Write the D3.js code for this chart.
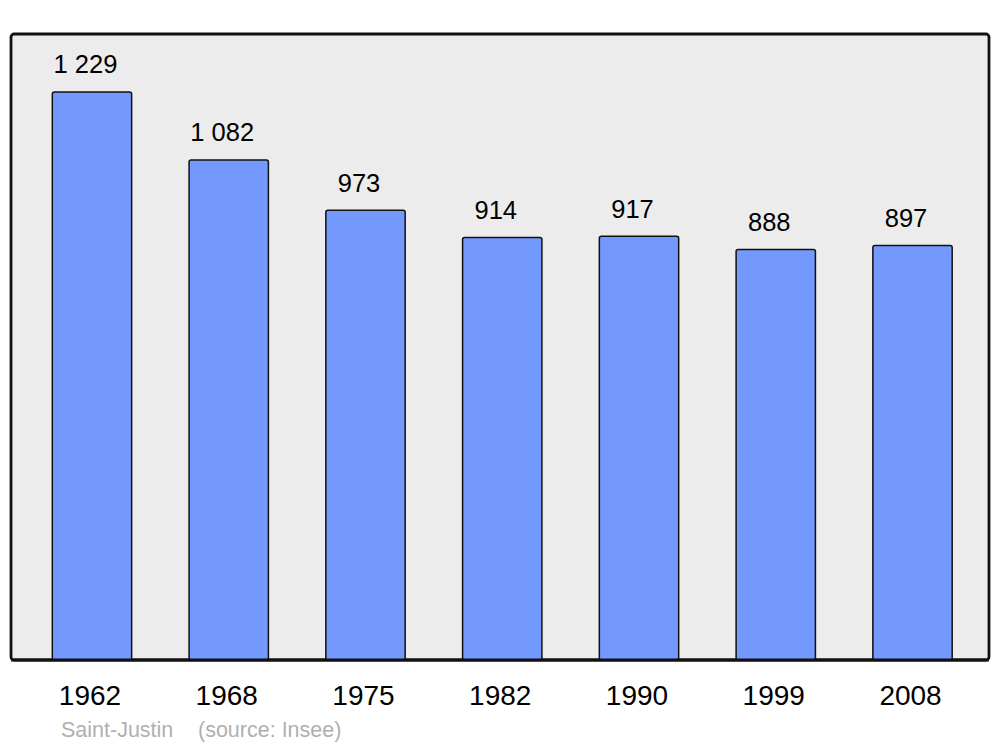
<!DOCTYPE html>
<html><head><meta charset="utf-8">
<script src="https://cdn.jsdelivr.net/npm/d3@7"></script>
<style>body{margin:0;background:#fff}svg{display:block}</style>
</head><body>
<svg id="c" width="1000" height="747"></svg>
<script>
const years = ["1962","1968","1975","1982","1990","1999","2008"];
const population = [1229, 1082, 973, 914, 917, 888, 897];
const valueLabels = ["1 229","1 082","973","914","917","888","897"];
const caption = ["Saint-Justin", "(source: Insee)"];

const svg = d3.select("#c");
const font = "Liberation Sans, Arial, sans-serif";
const plot = {x0: 11, x1: 989, y0: 34, y1: 660};

svg.append("rect").attr("x", plot.x0).attr("y", plot.y0)
  .attr("width", plot.x1 - plot.x0).attr("height", plot.y1 - plot.y0)
  .attr("rx", 3).attr("fill", "#ececec").attr("stroke", "#111").attr("stroke-width", 2.8);

const x = d3.scaleBand().domain(years).range([23.6, 980.9]).paddingInner(0.42).paddingOuter(0.21);
const y = d3.scaleLinear().domain([0, 1229 * 1.102]).range([plot.y1, plot.y0]);

const g = svg.append("g");
g.selectAll("rect.bar").data(years).join("rect").attr("class","bar")
  .attr("x", d => x(d)).attr("width", x.bandwidth())
  .attr("y", (d,i) => y(population[i])).attr("height", (d,i) => plot.y1 - y(population[i]))
  .attr("rx", 2).attr("fill", "#7399ff").attr("stroke", "#111").attr("stroke-width", 1.5);

g.selectAll("text.val").data(years).join("text").attr("class","val")
  .attr("x", d => x(d) + x.bandwidth()/2 - 6.5).attr("y", (d,i) => y(population[i]) - 18.5)
  .attr("text-anchor","middle").attr("font-family", font).attr("font-size", 25.5).attr("fill","#000")
  .text((d,i) => valueLabels[i]);

svg.append("line").attr("x1", plot.x0).attr("x2", plot.x1).attr("y1", plot.y1).attr("y2", plot.y1)
  .attr("stroke","#111").attr("stroke-width",2.8);

const xAxis = d3.axisBottom(x).tickSize(0).tickPadding(0);
const ax = svg.append("g").attr("transform", `translate(-2,${plot.y1})`).call(xAxis);
ax.select(".domain").remove();
ax.selectAll("text").attr("font-family", font).attr("font-size", 28).attr("fill","#000")
  .attr("dy", null).attr("y", 45);

svg.append("text").attr("x", 61).attr("y", 737).attr("font-family", font).attr("font-size", 21.5)
  .attr("fill", "#b0b0b0").text(caption[0]);
svg.append("text").attr("x", 198).attr("y", 737).attr("font-family", font).attr("font-size", 21.5)
  .attr("fill", "#b0b0b0").text(caption[1]);
</script>
</body></html>
